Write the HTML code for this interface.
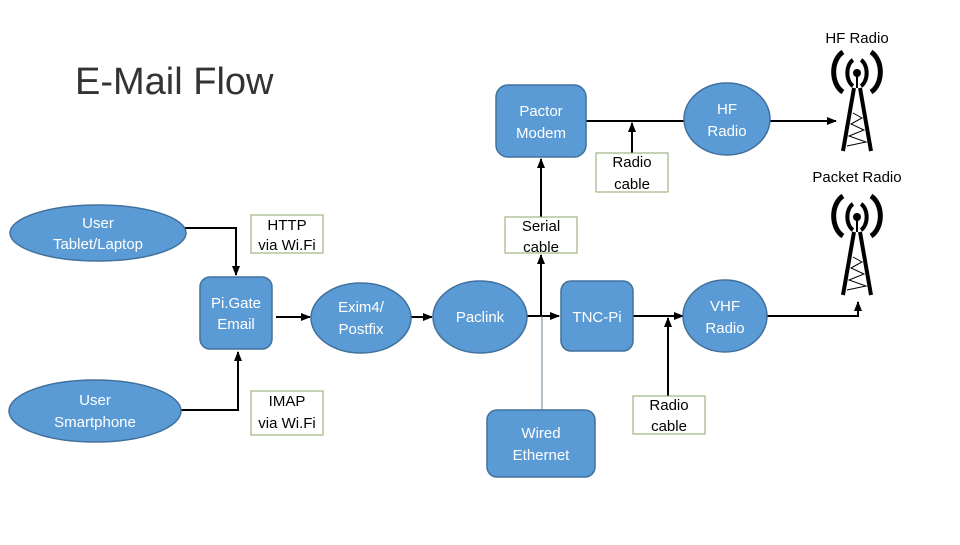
<!DOCTYPE html>
<html><head><meta charset="utf-8"><style>
body{margin:0;background:#fff;}
svg text{font-family:"Liberation Sans",sans-serif;}
</style></head><body>
<svg width="960" height="540" viewBox="0 0 960 540" xmlns="http://www.w3.org/2000/svg">
<defs>
<marker id="a" viewBox="0 0 10 10" refX="9" refY="5" markerWidth="5" markerHeight="5" orient="auto"><path d="M0,1 L10,5 L0,9 z" fill="#000"/></marker>
<g id="tower">
<path d="M-4,-28 A9,14 0 0 0 -4,-2" fill="none" stroke="#000" stroke-width="4"/>
<path d="M4,-28 A9,14 0 0 1 4,-2" fill="none" stroke="#000" stroke-width="4"/>
<path d="M-14,-36 A16,22 0 0 0 -14,4" fill="none" stroke="#000" stroke-width="5"/>
<path d="M14,-36 A16,22 0 0 1 14,4" fill="none" stroke="#000" stroke-width="5"/>
<circle cx="0" cy="-15" r="4" fill="#000"/>
<line x1="0" y1="-15" x2="0" y2="0" stroke="#000" stroke-width="2"/>
<path d="M-3,0 L-14,63 M3,0 L14,63" stroke="#000" stroke-width="4" fill="none"/>
<path d="M-4,25 L5,30 L-6,36 L7,42 L-8,48 L9,54 L-10,58" stroke="#000" stroke-width="1" fill="none"/>
</g>
</defs>
<text x="75" y="94" font-size="38" fill="#333">E-Mail Flow</text>
<text x="857" y="43" font-size="15" text-anchor="middle">HF Radio</text>
<text x="857" y="182" font-size="15" text-anchor="middle">Packet Radio</text>
<use href="#tower" x="857" y="88"/>
<use href="#tower" x="857" y="232"/>

<g stroke="#000" stroke-width="2" fill="none">
<line x1="586" y1="121" x2="684" y2="121"/>
<line x1="770" y1="121" x2="836" y2="121" marker-end="url(#a)"/>
<line x1="632" y1="153" x2="632" y2="123" marker-end="url(#a)"/>
<line x1="541" y1="217" x2="541" y2="159" marker-end="url(#a)"/>
<line x1="541" y1="316" x2="541" y2="255" marker-end="url(#a)"/>
<polyline points="185,228 236,228 236,275" marker-end="url(#a)"/>
<polyline points="181,410 238,410 238,352" marker-end="url(#a)"/>
<line x1="276" y1="317" x2="310" y2="317" marker-end="url(#a)"/>
<line x1="410" y1="317" x2="432" y2="317" marker-end="url(#a)"/>
<line x1="527" y1="316" x2="559" y2="316" marker-end="url(#a)"/>
<line x1="633" y1="316" x2="683" y2="316" marker-end="url(#a)"/>
<line x1="668" y1="396" x2="668" y2="318" marker-end="url(#a)"/>
<polyline points="767,316 858,316 858,302" marker-end="url(#a)"/>
</g>
<line x1="542" y1="316" x2="542" y2="410" stroke="#6a7f95" stroke-width="1"/>

<g fill="#5b9bd5" stroke="#41719c" stroke-width="1.5">
<rect x="496" y="85" width="90" height="72" rx="12"/>
<ellipse cx="727" cy="119" rx="43" ry="36"/>
<ellipse cx="98" cy="233" rx="88" ry="28"/>
<ellipse cx="95" cy="411" rx="86" ry="31"/>
<rect x="200" y="277" width="72" height="72" rx="10"/>
<ellipse cx="361" cy="318" rx="50" ry="35"/>
<ellipse cx="480" cy="317" rx="47" ry="36"/>
<rect x="561" y="281" width="72" height="70" rx="10"/>
<ellipse cx="725" cy="316" rx="42" ry="36"/>
<rect x="487" y="410" width="108" height="67" rx="10"/>
</g>
<g fill="#fff" stroke="#8ea56b" stroke-width="1">
<rect x="596" y="153" width="72" height="39"/>
<rect x="505" y="217" width="72" height="36"/>
<rect x="251" y="215" width="72" height="38"/>
<rect x="251" y="391" width="72" height="44"/>
<rect x="633" y="396" width="72" height="38"/>
</g>
<g font-size="15" fill="#fff" text-anchor="middle">
<text x="541" y="116">Pactor</text><text x="541" y="138">Modem</text>
<text x="727" y="114">HF</text><text x="727" y="136">Radio</text>
<text x="98" y="228">User</text><text x="98" y="249">Tablet/Laptop</text>
<text x="95" y="405">User</text><text x="95" y="427">Smartphone</text>
<text x="236" y="308">Pi.Gate</text><text x="236" y="329">Email</text>
<text x="361" y="312">Exim4/</text><text x="361" y="334">Postfix</text>
<text x="480" y="322">Paclink</text>
<text x="597" y="322">TNC-Pi</text>
<text x="725" y="311">VHF</text><text x="725" y="333">Radio</text>
<text x="541" y="438">Wired</text><text x="541" y="460">Ethernet</text>
</g>
<g font-size="15" fill="#000" text-anchor="middle">
<text x="632" y="167">Radio</text><text x="632" y="189">cable</text>
<text x="541" y="231">Serial</text><text x="541" y="252">cable</text>
<text x="287" y="230">HTTP</text><text x="287" y="250">via Wi.Fi</text>
<text x="287" y="406">IMAP</text><text x="287" y="428">via Wi.Fi</text>
<text x="669" y="410">Radio</text><text x="669" y="431">cable</text>
</g>
</svg>
</body></html>
